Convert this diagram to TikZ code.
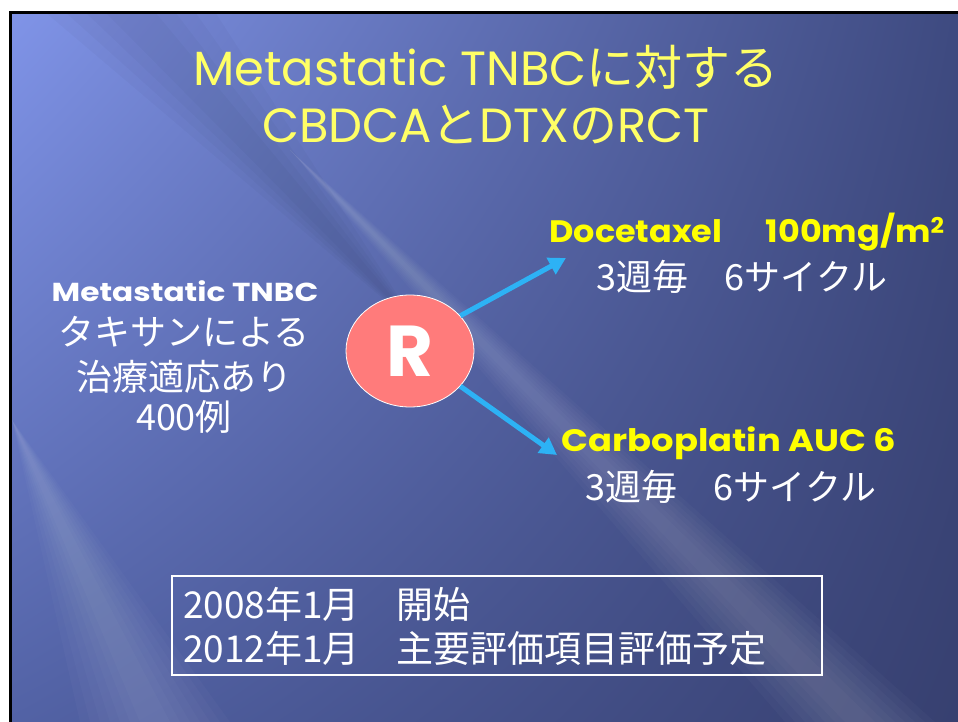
\documentclass[tikz,border=0pt]{standalone}
\usepackage{fontspec}
\usepackage{graphicx}
\setmainfont{Poppins}
\newfontfamily\jp{Noto Sans CJK JP}
\usetikzlibrary{arrows.meta,shapes.geometric,shadings}
\definecolor{ttl}{RGB}{255,255,102}
\definecolor{ylw}{RGB}{255,255,0}
\definecolor{arr}{RGB}{45,178,245}
\definecolor{rfill}{RGB}{255,123,123}
\definecolor{bgUL}{RGB}{128,148,232}
\definecolor{bgUR}{RGB}{62,74,128}
\definecolor{bgLL}{RGB}{82,98,165}
\definecolor{bgLR}{RGB}{55,64,112}
\tikzset{
  ttltext/.style={text=ttl,font=\fontsize{48}{52}\selectfont,inner sep=0pt},
  whitetext/.style={text=white,font=\fontsize{36}{40}\selectfont,inner sep=0pt},
  boxtext/.style={text=white,font=\fontsize{37}{40}\selectfont,inner sep=0pt},
  boldy/.style={text=ylw,font=\bfseries\fontsize{31}{34}\selectfont,inner sep=0pt},
  arrowline/.style={draw=arr,line width=5pt,-{Triangle[length=17pt,width=18pt]}},
  streak/.style={fill=white,opacity=0.022}
}
\begin{document}
\begin{tikzpicture}[x=1pt,y=-1pt]
\useasboundingbox (0,0) rectangle (958,722);
\fill[white] (0,0) rectangle (958,722);
\shade[upper left=bgUL,upper right=bgUR,lower left=bgLL,lower right=bgLR] (10,12) rectangle (958,722);
% soft diagonal streaks, tapering to a point so no hard edge shows
\foreach \w in {5,15,25,35,45,55,65}{
  \fill[streak] (290,150) -- (870+\w,722) -- (850-\w,722) -- cycle;
  \fill[streak] (12,420) -- (165+\w,722) -- (145-\w,722) -- cycle;
}
\foreach \w in {15,35,55,75}{
  \fill[fill=black,opacity=0.025] (120-\w,12) -- (140+\w,12) -- (420,330) -- cycle;
}
\draw[black,line width=3pt] (10.5,722) -- (10.5,12.5) -- (958,12.5);

% title
\node[ttltext] (t1) at (486,67) {Metastatic TNBC{\jp に対する}};
\node[ttltext] (t2) at (486,125) {CBDCA{\jp と}DTX{\jp の}RCT};

% left block
\node[text=white,font=\bfseries\fontsize{26}{28}\selectfont,inner sep=0pt] (l1) at (185,291) {\scalebox{1.2}[1]{Metastatic TNBC}};
\node[whitetext] (l2) at (184,332) {\jp タキサンによる};
\node[whitetext] (l3) at (184,377) {\jp 治療適応あり};
\node[whitetext] (l4) at (184,417) {\jp 400例};

% R
\node[ellipse,fill=rfill,draw=white,line width=0.8pt,minimum width=128pt,minimum height=112pt,inner sep=0pt] (r) at (410,351) {};
\node[text=white,font=\bfseries\fontsize{72}{76}\selectfont,inner sep=0pt] (rl) at (r.center) {R};

% right top
\node[boldy] (d1) at (747,232) {\scalebox{1.08}[1]{Docetaxel\hspace{40pt}100mg/m\textsuperscript{2}}};
\node[whitetext] (d2) at (742,277) {\jp 3週毎　6サイクル};
% right bottom
\node[boldy] (c1) at (729,443) {\scalebox{1.14}[1]{Carboplatin AUC 6}};
\node[whitetext] (c2) at (731,487) {\jp 3週毎　6サイクル};

% arrows
\coordinate (a1) at (566,258);
\coordinate (a2) at (557,455);
\draw[arrowline] (r.35) -- (a1);
\draw[arrowline] (r.-35) -- (a2);

% bottom box
\node[draw=white,line width=1.5pt,minimum width=650pt,minimum height=99pt,inner sep=0pt] (box) at (497,625.5) {};
\node[boxtext,anchor=west] (b1) at (183,604) {\jp 2008年1月　開始};
\node[boxtext,anchor=west] (b2) at (183,648) {\jp 2012年1月　主要評価項目評価予定};
\end{tikzpicture}
\end{document}
